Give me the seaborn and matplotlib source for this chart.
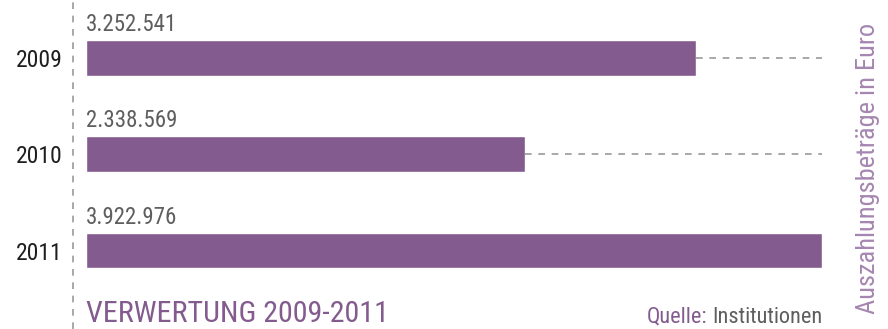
import matplotlib
matplotlib.use("Agg")
import matplotlib.pyplot as plt
from matplotlib import font_manager
from matplotlib.lines import Line2D
import pandas as pd
import seaborn as sns

# Data
years = ["2009", "2010", "2011"]
payouts = [3252541, 2338569, 3922976]
value_labels = ["3.252.541", "2.338.569", "3.922.976"]

title = "VERWERTUNG 2009-2011"
source_key = "Quelle:"
source_val = "Institutionen"
side_label = "Auszahlungsbeträge in Euro"

PURPLE = "#835b8e"
LIGHT_PURPLE = "#a586b1"
GREY = "#5e5e5e"
DASH_GREY = "#9a9a9a"

sns.set_theme(style="white")
available = {f.name for f in font_manager.fontManager.ttflist}
family = "DejaVu Sans"
for cand in ["Roboto Condensed", "Liberation Sans Narrow", "Open Sans Condensed", "Roboto"]:
    if cand in available:
        family = cand
        break
plt.rcParams["font.family"] = [family, "DejaVu Sans"]

W, H = 888, 329
fig = plt.figure(figsize=(W / 100, H / 100), dpi=100)
ax = fig.add_axes([86 / W, 0, (822 - 86) / W, 1])

df = pd.DataFrame({"year": years, "payout": payouts})
sns.barplot(data=df, x="payout", y="year", color=PURPLE, saturation=1,
            width=0.374, ax=ax, orient="h")

vmax = max(payouts)
ax.set_xlim(0, vmax)
step = 96.25
top = 58
ax.set_ylim((H - top) / step, -top / step)

# dashed guide from the end of each bar to the longest bar
for i, v in enumerate(payouts):
    if v < vmax:
        ax.hlines(i, v, vmax, colors=DASH_GREY, linestyles=(0, (4, 4)), lw=1.2)

# value labels above the bars
for i, lab in enumerate(value_labels):
    ax.text(0, i - 0.28, lab, ha="left", va="baseline", fontsize=16.5,
            color=GREY)

ax.set_xlabel("")
ax.set_ylabel("")
ax.set_xticks([])
ax.tick_params(axis="y", length=0, pad=17, labelsize=17, labelcolor="#1e1e1e")
for s in ax.spines.values():
    s.set_visible(False)
ax.patch.set_alpha(0)

# vertical dashed axis line
fig.add_artist(Line2D([73 / W, 73 / W], [0, 1], transform=fig.transFigure,
                      color=DASH_GREY, lw=1.2, linestyle=(0, (4, 4))))

# title
fig.text(86 / W, 1 - 322 / H, title, ha="left", va="baseline", fontsize=21.6,
         color=PURPLE)

# source line
src = fig.text(822 / W, 1 - 323 / H, source_val, ha="right", va="baseline",
               fontsize=16, color=GREY)
ax.annotate(source_key, xy=(0, 0), xycoords=src, xytext=(-3, 0),
            textcoords="offset points", ha="right", va="bottom",
            fontsize=16, color=PURPLE, annotation_clip=False)

# side label
fig.text(868 / W, 1 - 168 / H, side_label, rotation=90, ha="center",
         va="center", fontsize=19, color=LIGHT_PURPLE)

fig.savefig("out.png", dpi=100)
